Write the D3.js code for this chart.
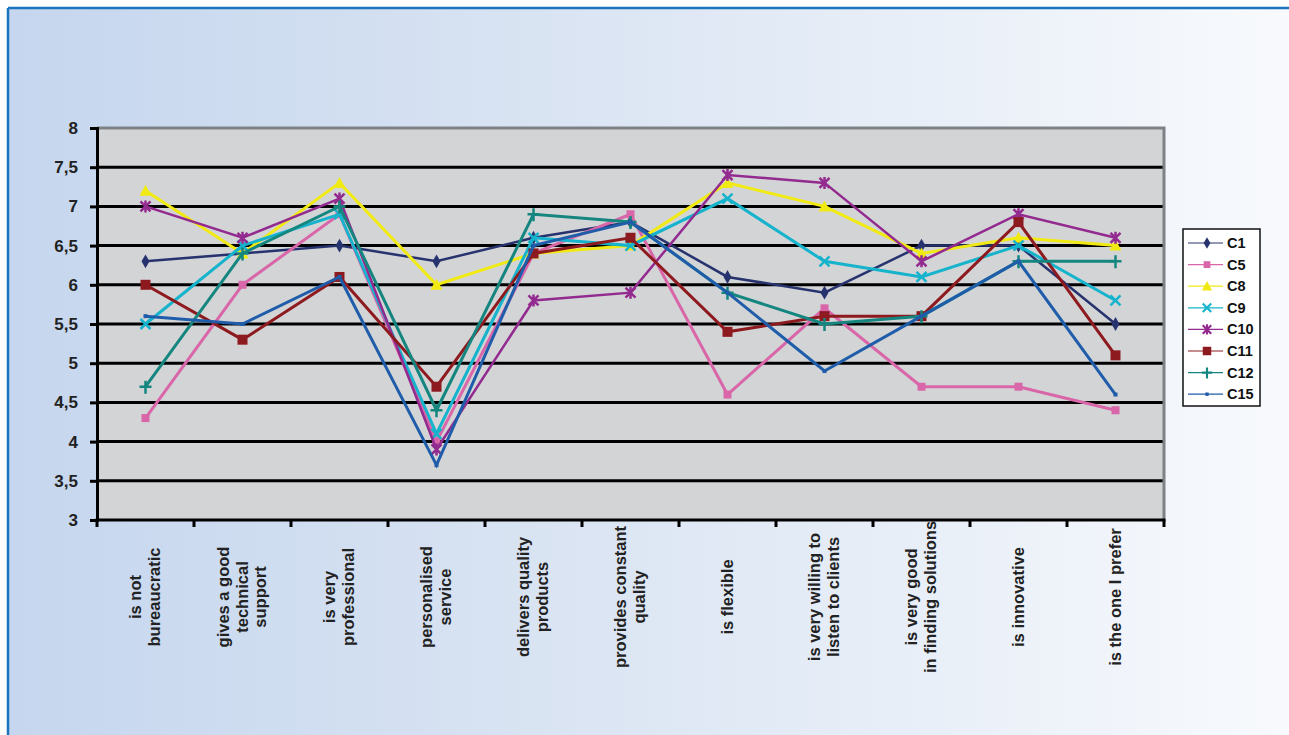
<!DOCTYPE html>
<html>
<head>
<meta charset="utf-8">
<script src="https://cdn.jsdelivr.net/npm/d3@7"></script>
<style>
  body { margin: 0; background: #fff; }
  text { font-family: "Liberation Sans", Arial, sans-serif; font-weight: bold; }
</style>
</head>
<body>
<svg id="chart" width="1289" height="735"></svg>
<script>
// Data:
const categories = [
  "is not\nbureaucratic", "gives a good\ntechnical\nsupport", "is very\nprofessional",
  "personalised\nservice", "delivers quality\nproducts", "provides constant\nquality",
  "is flexible", "is very willing to\nlisten to clients", "is very good\nin finding solutions",
  "is innovative", "is the one I prefer"
];
const seriesNames = ["C1", "C5", "C8", "C9", "C10", "C11", "C12", "C15"];
const c1  = [6.3, 6.4, 6.5, 6.3, 6.6, 6.8, 6.1, 5.9, 6.5, 6.5, 5.5];
const c5  = [4.3, 6.0, 6.9, 4.0, 6.4, 6.9, 4.6, 5.7, 4.7, 4.7, 4.4];
const c8  = [7.2, 6.4, 7.3, 6.0, 6.4, 6.5, 7.3, 7.0, 6.4, 6.6, 6.5];
const c9  = [5.5, 6.5, 6.9, 4.1, 6.6, 6.5, 7.1, 6.3, 6.1, 6.5, 5.8];
const c10 = [7.0, 6.6, 7.1, 3.9, 5.8, 5.9, 7.4, 7.3, 6.3, 6.9, 6.6];
const c11 = [6.0, 5.3, 6.1, 4.7, 6.4, 6.6, 5.4, 5.6, 5.6, 6.8, 5.1];
const c12 = [4.7, 6.4, 7.0, 4.4, 6.9, 6.8, 5.9, 5.5, 5.6, 6.3, 6.3];
const c15 = [5.6, 5.5, 6.1, 3.7, 6.5, 6.8, 5.9, 4.9, 5.6, 6.3, 4.6];
const yTicks = [3, 3.5, 4, 4.5, 5, 5.5, 6, 6.5, 7, 7.5, 8];
const yTickLabels = ["3", "3,5", "4", "4,5", "5", "5,5", "6", "6,5", "7", "7,5", "8"];

// Styles:
const colors = ["#27336f", "#d966a9", "#f1ea12", "#16b3cc", "#932a8f", "#8d1a1f", "#14867f", "#1f5daa"];
const widths = [2.5, 3, 3, 3, 2.5, 3, 3, 3];
const markers = ["diamond", "square", "triangle", "x", "star", "bigsquare", "plus", "dot"];

const allValues = [c1, c5, c8, c9, c10, c11, c12, c15];
const series = seriesNames.map((name, i) => ({name, values: allValues[i], color: colors[i], width: widths[i], marker: markers[i]}));

const svg = d3.select("#chart");

// background
const defs = svg.append("defs");
const grad = defs.append("linearGradient").attr("id", "bg").attr("x1", 0).attr("x2", 1).attr("y1", 0).attr("y2", 0);
grad.append("stop").attr("offset", "0%").attr("stop-color", "#c5d6ee");
grad.append("stop").attr("offset", "45%").attr("stop-color", "#dbe5f3");
grad.append("stop").attr("offset", "100%").attr("stop-color", "#f8fafd");
svg.append("rect").attr("x", 8).attr("y", 8).attr("width", 1289).attr("height", 735).attr("fill", "url(#bg)");
svg.append("line").attr("x1", 8).attr("x2", 1289).attr("y1", 8).attr("y2", 8).attr("stroke", "#1a74be").attr("stroke-width", 2.5);
svg.append("line").attr("x1", 8).attr("x2", 8).attr("y1", 8).attr("y2", 735).attr("stroke", "#1a74be").attr("stroke-width", 2.5);

// scales
const pLeft = 97, pRight = 1164, pTop = 128, pBottom = 520;
const x = d3.scaleBand().domain(categories).range([pLeft, pRight]).padding(0);
const cx = d => x(d) + x.bandwidth() / 2;
const y = d3.scaleLinear().domain([3, 8]).range([pBottom, pTop]);

// plot area
svg.append("rect").attr("x", pLeft).attr("y", pTop).attr("width", pRight - pLeft).attr("height", pBottom - pTop).attr("fill", "#d3d4d6");

svg.append("g").selectAll("line")
  .data(yTicks.filter(t => t > 3 && t < 8))
  .enter().append("line")
    .attr("x1", pLeft).attr("x2", pRight)
    .attr("y1", d => y(d)).attr("y2", d => y(d))
    .attr("stroke", "#000").attr("stroke-width", 3);

// top and right border (grey)
svg.append("path")
  .attr("d", `M${pLeft},${pTop}H${pRight}V${pBottom}`)
  .attr("fill", "none").attr("stroke", "#7d8286").attr("stroke-width", 3);

// y axis
const yAxis = svg.append("g")
  .attr("transform", `translate(${pLeft},0)`)
  .call(d3.axisLeft(y).tickValues(yTicks).tickSize(7).tickPadding(12)
    .tickFormat((d, i) => yTickLabels[i]));
yAxis.select(".domain").attr("stroke", "#000").attr("stroke-width", 3);
yAxis.selectAll(".tick line").attr("stroke", "#000").attr("stroke-width", 3);
yAxis.selectAll(".tick text").attr("font-size", 17).attr("fill", "#222")
  .attr("font-family", "Liberation Sans, Arial, sans-serif").attr("font-weight", "bold");

// x axis (ticks between categories)
const bounds = categories.map(c => x(c)).concat([pRight]);
svg.append("line").attr("x1", pLeft - 1.5).attr("x2", pRight + 1.5).attr("y1", pBottom).attr("y2", pBottom)
  .attr("stroke", "#000").attr("stroke-width", 3);
svg.append("g").selectAll("line").data(bounds).enter().append("line")
  .attr("x1", d => d).attr("x2", d => d)
  .attr("y1", pBottom).attr("y2", pBottom + 7)
  .attr("stroke", "#000").attr("stroke-width", 3);

// x labels
const xl = svg.append("g").selectAll("text").data(categories).enter().append("text")
  .attr("transform", d => `translate(${cx(d)},597) rotate(-90)`)
  .attr("text-anchor", "middle").attr("font-size", 16.5).attr("fill", "#222");
xl.each(function(d) {
  const lines = d.split("\n");
  const t = d3.select(this);
  lines.forEach((ln, i) => {
    t.append("tspan").attr("x", 0)
      .attr("y", (i - (lines.length - 1) / 2) * 18.5 + 5)
      .text(ln);
  });
});

// marker drawing
function drawMarker(g, type, color) {
  if (type === "diamond") {
    g.append("path").attr("d", d3.symbol(d3.symbolDiamond, 55)()).attr("fill", color);
  } else if (type === "square") {
    g.append("rect").attr("x", -4).attr("y", -4).attr("width", 8).attr("height", 8).attr("fill", color);
  } else if (type === "bigsquare") {
    g.append("rect").attr("x", -5).attr("y", -5).attr("width", 10).attr("height", 10).attr("fill", color);
  } else if (type === "triangle") {
    g.append("path").attr("d", "M0,-6L6,5L-6,5Z").attr("fill", color);
  } else if (type === "x") {
    g.append("path").attr("d", "M-5,-5L5,5M-5,5L5,-5").attr("stroke", color).attr("stroke-width", 2.5);
  } else if (type === "star") {
    g.append("path").attr("d", "M-5,-5L5,5M-5,5L5,-5M0,-6L0,6").attr("stroke", color).attr("stroke-width", 2.5);
  } else if (type === "plus") {
    g.append("path").attr("d", "M-6,0L6,0M0,-6L0,7").attr("stroke", color).attr("stroke-width", 2.5);
  } else if (type === "dot") {
    g.append("rect").attr("x", -2).attr("y", -2).attr("width", 4).attr("height", 4).attr("fill", color);
  }
}

// lines
const line = d3.line().x((d, i) => cx(categories[i])).y(d => y(d));
const sg = svg.append("g").selectAll("g").data(series).enter().append("g");
sg.append("path")
  .attr("d", d => line(d.values))
  .attr("fill", "none")
  .attr("stroke", d => d.color)
  .attr("stroke-width", d => d.width)
  .attr("stroke-linejoin", "miter");
sg.each(function(s) {
  const g = d3.select(this);
  s.values.forEach((v, i) => {
    drawMarker(g.append("g").attr("transform", `translate(${cx(categories[i])},${y(v)})`), s.marker, s.color);
  });
});

// legend
const lg = svg.append("g").attr("transform", "translate(1183,229)");
lg.append("rect").attr("width", 77).attr("height", 177).attr("fill", "#fff").attr("stroke", "#111").attr("stroke-width", 1.5);
const le = lg.selectAll(".le").data(series).enter().append("g")
  .attr("class", "le")
  .attr("transform", (d, i) => `translate(0,${14 + i * 21.6})`);
le.append("line").attr("x1", 5).attr("x2", 40).attr("y1", 0).attr("y2", 0)
  .attr("stroke", d => d.color).attr("stroke-width", 1.2);
le.each(function(d) {
  drawMarker(d3.select(this).append("g").attr("transform", "translate(24,0) scale(0.85)"), d.marker, d.color);
});
le.append("text").attr("x", 44).attr("y", 5).attr("font-size", 14.5).attr("fill", "#111").text(d => d.name);
</script>
</body>
</html>
